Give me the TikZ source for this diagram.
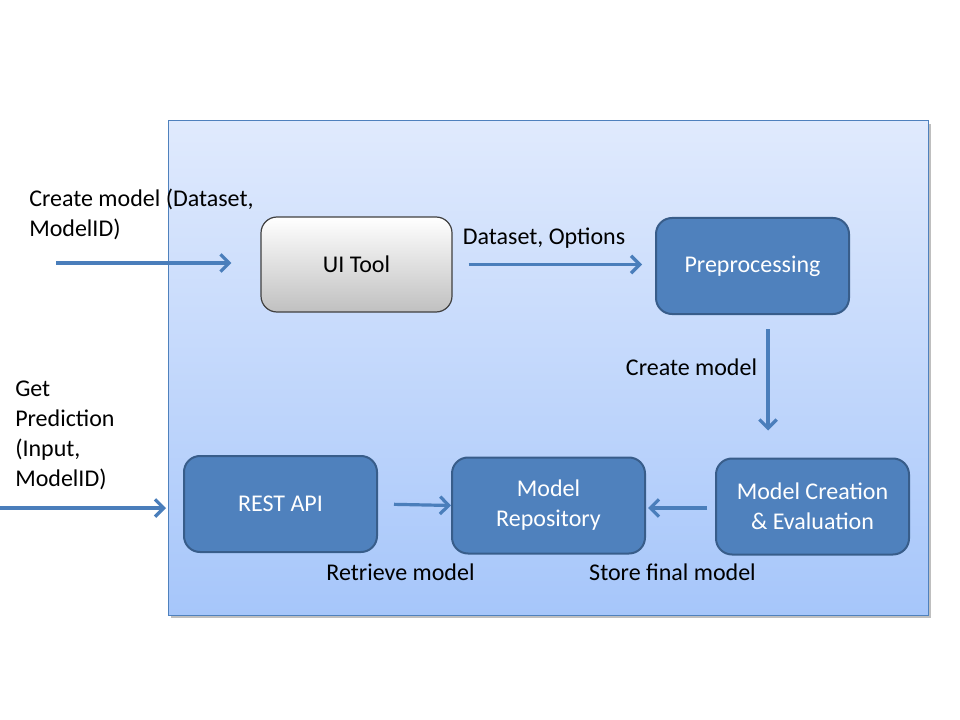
\documentclass[tikz,border=0pt]{standalone}
\usepackage{fontspec}
\setmainfont{Carlito}
\usetikzlibrary{arrows.meta,calc}
\definecolor{boxblue}{RGB}{79,129,189}
\definecolor{boxedge}{RGB}{56,93,138}
\definecolor{arrowblue}{RGB}{74,126,187}
\definecolor{panetop}{RGB}{224,234,253}
\definecolor{panebot}{RGB}{166,198,250}
\definecolor{paneedge}{RGB}{79,129,189}
\definecolor{uiedge}{RGB}{64,64,64}
\definecolor{uibot}{RGB}{192,192,192}
\tikzset{
  every node/.style={font=\fontsize{18}{22.5}\selectfont},
  bluebox/.style={draw=boxedge, line width=1.5pt, fill=boxblue, rounded corners=12pt,
    minimum width=144.75pt, minimum height=72pt, text=white, align=center, inner sep=0pt},
  greybox/.style={draw=uiedge, line width=0.9pt, top color=white, bottom color=uibot,
    rounded corners=12pt, minimum width=143.25pt, minimum height=71.25pt, align=center, inner sep=0pt},
  arr/.style={draw=arrowblue, line width=2.4pt, -{Straight Barb[length=6.5pt,width=13pt]}},
  lbl/.style={inner sep=0pt, text=black},
}
\begin{document}
\begin{tikzpicture}[x=0.75pt,y=-0.75pt]
\useasboundingbox (0,0) rectangle (960,720);
% pane
\fill[black!25] (171,124) rectangle (931,618);
\shade[top color=panetop, bottom color=panebot, draw=paneedge, line width=0.75pt]
  (168,121) rectangle (928,615);
% boxes
\node[greybox] (ui) at (356.5,264.5) {\raisebox{-1.5pt}{UI Tool}};
\node[bluebox] (prep) at (752.5,266) {\raisebox{-1.5pt}{Preprocessing}};
\node[bluebox] (rest) at (280.5,504) {\raisebox{-1.5pt}{REST API}};
\node[bluebox] (repo) at (548.5,505.5) {Model\\Repository};
\node[bluebox] (mce) at (812.5,506.5) {Model Creation\\\& Evaluation};
% connectors
\coordinate (c1) at (56,263);
\draw[arr, shorten >=21.75pt] (c1) -- (c1 -| ui.west);
\draw[arr, shorten <=12pt, shorten >=9.75pt] (ui.east) -- (ui.east -| prep.west);
\coordinate (p1) at ($(prep.south)+(15.5,0)$);
\draw[arr, shorten <=10.5pt, shorten >=20.25pt] (p1) -- (p1 |- mce.north);
\coordinate (m1) at ($(mce.west)+(0,1.5)$);
\draw[arr, shorten <=6pt, shorten >=1.5pt] (m1) -- (m1 -| repo.east);
\draw[arr, shorten <=12pt] (rest.east) -- (repo.west);
\coordinate (c2) at (0,508);
\draw[arr, shorten >=12.75pt] (c2) -- (c2 -| rest.west);
% labels
\node[lbl, anchor=north west, align=left] (l1) at (29,189) {Create model (Dataset,\\ModelID)};
\node[lbl, anchor=north west, align=left] (l2) at (15,381) {Get\\Prediction\\(Input,\\ModelID)};
\node[lbl, anchor=base] (l3) at (544,245) {Dataset, Options};
\node[lbl, anchor=base] (l4) at (691.5,375) {Create model};
\node[lbl, anchor=base] (l5) at (400.5,580) {Retrieve model};
\node[lbl, anchor=base] (l6) at (672.5,580) {Store final model};
\end{tikzpicture}
\end{document}
